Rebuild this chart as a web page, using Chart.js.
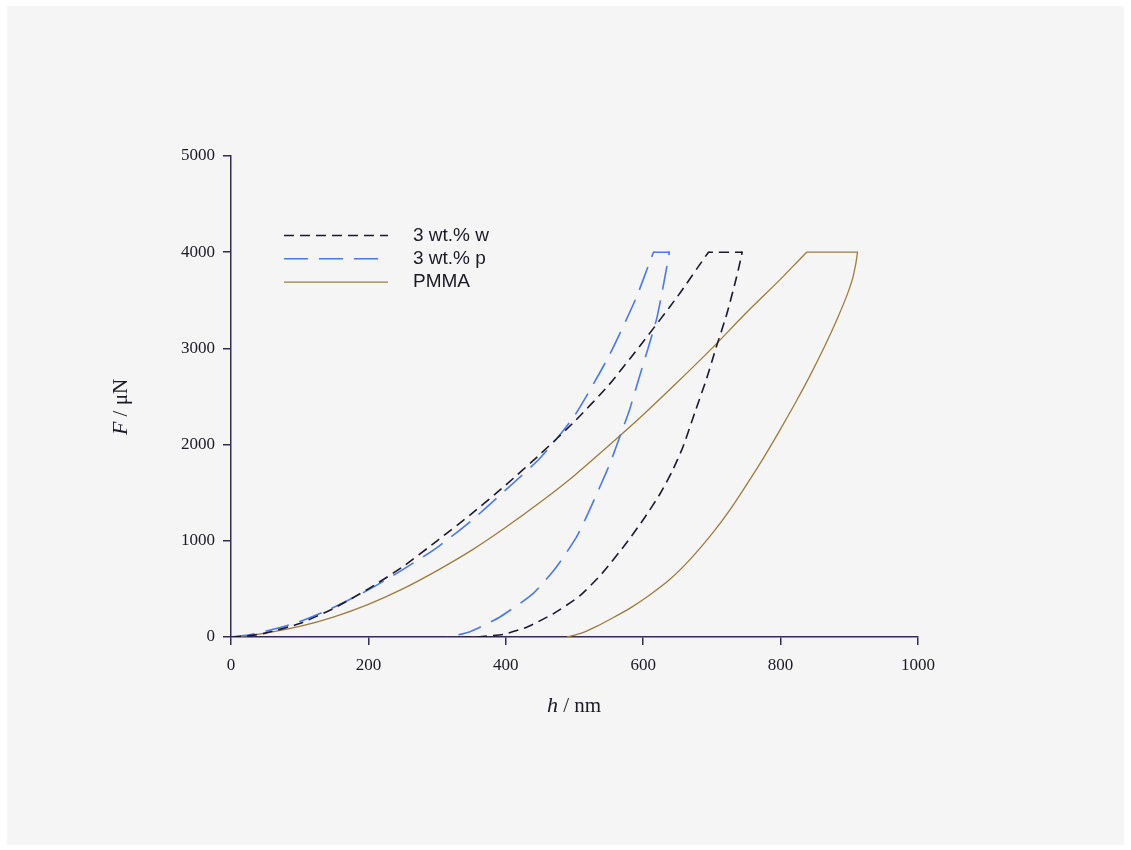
<!DOCTYPE html>
<html>
<head>
<meta charset="utf-8">
<script src="https://cdn.jsdelivr.net/npm/chart.js@4.4.0/dist/chart.umd.min.js"></script>
<style>
  html, body { margin: 0; padding: 0; background: #fff; }
  #wrap { width: 1131px; height: 850px; }
</style>
</head>
<body>
<div id="wrap"><canvas id="chart" width="1131" height="850"></canvas></div>
<script>
// 3 wt.% w : loading, hold, unloading
const wH = [0, 25, 50, 100, 150, 200, 250, 300, 350, 400, 450, 500, 550, 600, 650, 695,
            697, 742, 744, 736, 722, 705, 692, 675, 658, 642, 625, 602, 578, 540, 508, 470, 432, 397, 362, 340];
const wF = [0, 12, 40, 140, 300, 500, 730, 1000, 1280, 1580, 1900, 2240, 2620, 3070, 3540, 4000,
            4000, 4000, 4000, 3745, 3365, 2983, 2680, 2330, 1978, 1720, 1494, 1240, 1000, 660, 430, 246, 107, 28, 3, 0];

// 3 wt.% p
const pH = [0, 25, 50, 100, 150, 200, 250, 300, 350, 400, 450, 500, 550, 590, 615,
            617, 636, 638, 630, 620, 607, 593, 580, 566, 552, 537, 520, 503, 474, 440, 392, 348, 319, 315];
const pF = [0, 20, 60, 160, 310, 490, 700, 930, 1210, 1530, 1860, 2300, 2920, 3530, 4000,
            4000, 4000, 4000, 3680, 3320, 3000, 2670, 2360, 2082, 1810, 1562, 1290, 1040, 731, 454, 211, 55, 3, 0];

// PMMA
const mH = [0, 25, 50, 100, 150, 200, 250, 300, 350, 400, 450, 500, 550, 600, 650, 700, 750, 800, 838,
            840, 910, 912, 906, 898, 882, 864, 843, 822, 799, 775, 751, 727, 702, 670, 639, 610, 581, 556, 532, 510, 489];
const mF = [0, 15, 40, 110, 210, 340, 500, 690, 900, 1140, 1400, 1680, 1990, 2310, 2650, 3000, 3370, 3720, 4000,
            4000, 4000, 4000, 3760, 3580, 3300, 3020, 2720, 2440, 2150, 1860, 1590, 1330, 1090, 820, 600, 440, 300, 200, 110, 40, 0];

const seriesNames = ["3 wt.% w", "3 wt.% p", "PMMA"];
const xTicks = [0, 200, 400, 600, 800, 1000];
const yTicks = [0, 1000, 2000, 3000, 4000, 5000];

const axisColor = "#362b57";
const textColor = "#1b1a26";

function pts(hs, fs) {
  return hs.map((h, i) => ({ x: h, y: fs[i] }));
}

// 배경 (흰 테두리 + 회색 판)
const bgPlugin = {
  id: "bg",
  beforeDraw(chart) {
    const c = chart.ctx;
    c.save();
    c.fillStyle = "#ffffff";
    c.fillRect(0, 0, chart.width, chart.height);
    c.fillStyle = "#f5f5f5";
    c.fillRect(7, 6, 1117, 839);
    c.restore();
  },
};

// 축 제목: 기호만 이탤릭
function mixedText(c, parts, x, y) {
  let total = 0;
  parts.forEach(p => { c.font = p.font; total += c.measureText(p.t).width; });
  let cx = x - total / 2;
  parts.forEach(p => {
    c.font = p.font;
    c.fillText(p.t, cx, y);
    cx += c.measureText(p.t).width;
  });
}

const titlePlugin = {
  id: "axisTitles",
  afterDraw(chart) {
    const c = chart.ctx;
    c.save();
    c.fillStyle = textColor;
    c.textBaseline = "middle";
    c.textAlign = "left";
    const it = "italic 22px 'Liberation Serif'";
    const rg = "21px 'Liberation Serif'";
    mixedText(c, [{ t: "h", font: it }, { t: " / nm", font: rg }], 574, 706);
    c.translate(121, 407);
    c.rotate(-Math.PI / 2);
    mixedText(c, [{ t: "F", font: it }, { t: " / \u03bcN", font: rg }], 0, 0);
    c.restore();
  },
};

// 범례
const legendPlugin = {
  id: "customLegend",
  afterDraw(chart) {
    const c = chart.ctx;
    c.save();
    chart.data.datasets.forEach((ds, i) => {
      const y = 235.5 + i * 23.3;
      c.beginPath();
      c.strokeStyle = ds.borderColor;
      c.lineWidth = ds.borderWidth;
      c.setLineDash(ds.borderDash || []);
      c.moveTo(284, y);
      c.lineTo(388, y);
      c.stroke();
      c.setLineDash([]);
      c.fillStyle = textColor;
      c.font = "19px 'Liberation Sans'";
      c.textBaseline = "middle";
      c.textAlign = "left";
      c.fillText(ds.label, 413, y);
    });
    c.restore();
  },
};

const ctx = document.getElementById("chart").getContext("2d");
const chart = new Chart(ctx, {
  type: "scatter",
  data: {
    datasets: [
      {
        label: seriesNames[0],
        data: pts(wH, wF),
        showLine: true,
        borderColor: "#1d1830",
        borderWidth: 1.6,
        borderDash: [10, 6],
        pointRadius: 0,
        tension: 0.2,
      },
      {
        label: seriesNames[1],
        data: pts(pH, pF),
        showLine: true,
        borderColor: "#4a78ee",
        borderWidth: 1.6,
        borderDash: [24, 11],
        pointRadius: 0,
        tension: 0.2,
      },
      {
        label: seriesNames[2],
        data: pts(mH, mF),
        showLine: true,
        borderColor: "#9d7c3c",
        borderWidth: 1.3,
        pointRadius: 0,
        tension: 0.2,
      },
    ],
  },
  options: {
    responsive: false,
    animation: false,
    devicePixelRatio: 1,
    layout: { padding: { left: 151, top: 156, right: 213, bottom: 153 } },
    plugins: {
      legend: { display: false },
      tooltip: { enabled: false },
    },
    scales: {
      x: {
        type: "linear",
        min: 0,
        max: 1000,
        afterBuildTicks: s => { s.ticks = xTicks.map(v => ({ value: v })); },
        afterFit: s => { s.height = 60; },
        ticks: {
          color: textColor,
          font: { family: "'Liberation Serif'", size: 17 },
          padding: 10,
          maxRotation: 0,
          callback: v => String(v),
        },
        grid: { drawOnChartArea: false, drawTicks: true, tickLength: 8, color: axisColor, lineWidth: 1.5 },
        border: { display: true, color: axisColor, width: 1.5 },
      },
      y: {
        type: "linear",
        min: 0,
        max: 5000,
        afterBuildTicks: s => { s.ticks = yTicks.map(v => ({ value: v })); },
        afterFit: s => { s.width = 80; },
        ticks: {
          color: textColor,
          font: { family: "'Liberation Serif'", size: 17 },
          padding: 8,
          callback: v => String(v),
        },
        grid: { drawOnChartArea: false, drawTicks: true, tickLength: 8, color: axisColor, lineWidth: 1.5 },
        border: { display: true, color: axisColor, width: 1.5 },
      },
    },
  },
  plugins: [bgPlugin, titlePlugin, legendPlugin],
});
</script>
</body>
</html>
